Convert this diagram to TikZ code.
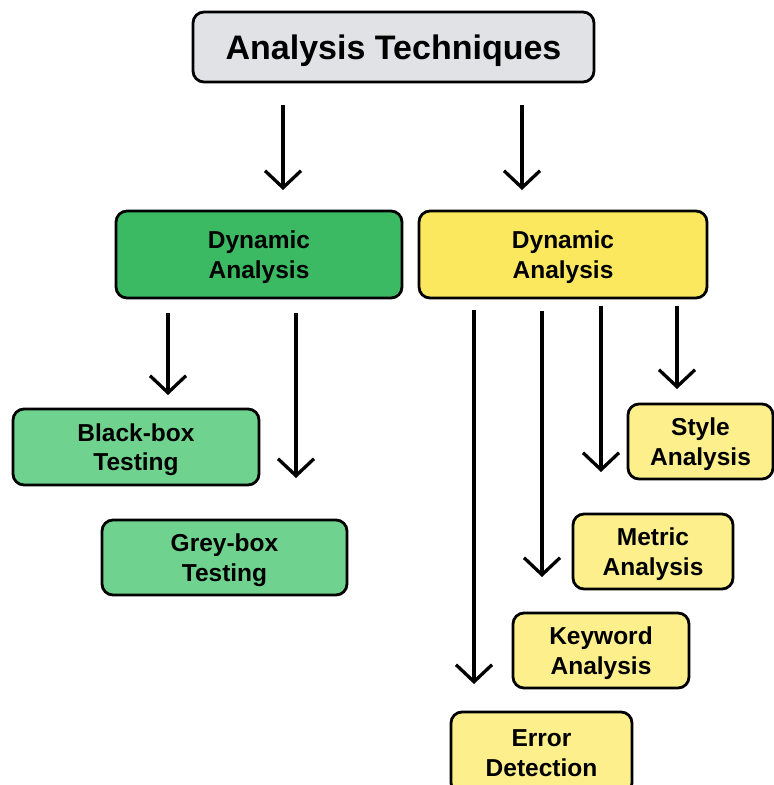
\documentclass[tikz,border=0pt]{standalone}
\usepackage{fontspec}
\setmainfont{Liberation Sans}
\usetikzlibrary{arrows.meta}

\definecolor{greybox}{HTML}{E0E2E6}
\definecolor{darkgreen}{HTML}{3CBA63}
\definecolor{lightgreen}{HTML}{6FD38F}
\definecolor{darkyellow}{HTML}{FBE85F}
\definecolor{lightyellow}{HTML}{FDF08C}

\begin{document}
\begin{tikzpicture}[x=1pt,y=-1pt,
		box/.style={draw=black, line width=2.8pt, rounded corners=11pt, align=center,
			inner sep=0pt, text depth=0pt, font=\fontsize{24.5}{29.5}\selectfont\bfseries},
		arr/.style={line width=3.3pt, -{Straight Barb[length=17pt,width=36pt,line width=3.3pt]}}]

	\path[use as bounding box, clip] (0,0) rectangle (774,785);

		    \node[box, fill=greybox, minimum width=401pt, minimum height=70pt,
		          font=\fontsize{34}{40}\selectfont\bfseries] (techniques) at (393.5,47) {Analysis Techniques};

		    \node[box, fill=darkgreen, minimum width=286pt, minimum height=87pt] (dyngreen) at (259,254.5) {Dynamic\\Analysis};
		    \node[box, fill=darkyellow, minimum width=288pt, minimum height=87pt] (dynyellow) at (563,254.5) {Dynamic\\Analysis};

		    \node[box, fill=lightgreen, minimum width=246pt, minimum height=76pt] (blackbox) at (136,447) {Black-box\\Testing};
		    \node[box, fill=lightgreen, minimum width=245pt, minimum height=75pt] (greybox) at (224.5,557.5) {Grey-box\\Testing};

		    \node[box, fill=lightyellow, minimum width=145pt, minimum height=75pt] (style) at (700.5,441.5) {Style\\Analysis};
		    \node[box, fill=lightyellow, minimum width=160pt, minimum height=75pt] (metric) at (653,551.5) {Metric\\Analysis};
		    \node[box, fill=lightyellow, minimum width=176pt, minimum height=75pt] (keyword) at (601,650.5) {Keyword\\Analysis};
		    \node[box, fill=lightyellow, minimum width=181pt, minimum height=82pt] (error) at (541.5,753) {Error\\Detection};

	    % arrow ends
		    \coordinate (t1) at (283,105);  \coordinate (t1e) at (283,190);
		    \coordinate (t2) at (522,105);  \coordinate (t2e) at (522,190);
		    \coordinate (g1) at (168,313);  \coordinate (g1e) at (168,395);
		    \coordinate (g2) at (296,313);  \coordinate (g2e) at (296,478);
		    \coordinate (y1) at (474,310);  \coordinate (y1e) at (474,684);
		    \coordinate (y2) at (542,311);  \coordinate (y2e) at (542,577);
		    \coordinate (y3) at (601,306);  \coordinate (y3e) at (601,472);
		    \coordinate (y4) at (677,306);  \coordinate (y4e) at (677,389);

		    \foreach \s in {t1,t2,g1,g2,y1,y2,y3,y4}
		        \draw[arr] (\s) -- (\s e);

	\end{tikzpicture}
\end{document}
